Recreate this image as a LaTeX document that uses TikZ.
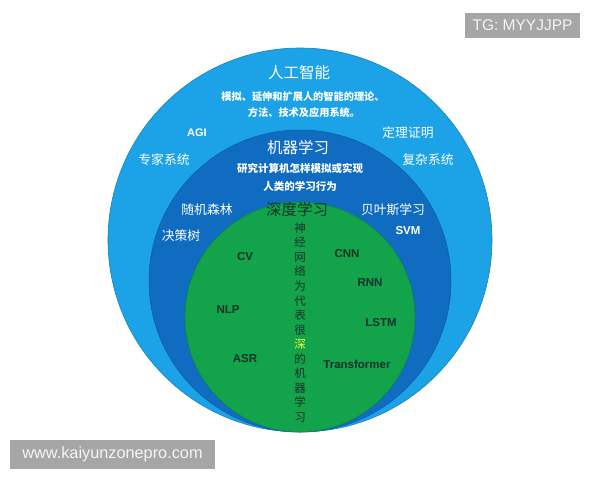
\documentclass[tikz,border=0pt]{standalone}
\usepackage{fontspec}
\setmainfont{Liberation Sans}
\newfontfamily\cjk{Noto Sans CJK SC}
\definecolor{outerblue}{HTML}{1CA2E6}
\definecolor{outeredge}{HTML}{1782BE}
\definecolor{midblue}{HTML}{0F6CC0}
\definecolor{midedge}{HTML}{0B5A9E}
\definecolor{innergreen}{HTML}{13A34B}
\definecolor{inneredge}{HTML}{0E8A3E}
\definecolor{gtext}{HTML}{16322A}
\definecolor{hlyellow}{HTML}{EEFF33}
\definecolor{wmgray}{HTML}{A6A6A6}
\definecolor{wmtext}{HTML}{F4F4F4}
\tikzset{
  wtitle/.style={text=white, font=\cjk\fontsize{15.5}{18}\selectfont, inner sep=0pt},
  wsub/.style={text=white, font=\cjk\bfseries\fontsize{10.2}{12}\selectfont, inner sep=0pt},
  wlab/.style={text=white, font=\cjk\fontsize{12.8}{15}\selectfont, inner sep=0pt},
  wlat/.style={text=white, font=\bfseries\fontsize{11}{13}\selectfont, inner sep=0pt},
  glat/.style={text=gtext, font=\bfseries\fontsize{11.5}{13}\selectfont, inner sep=0pt},
  wmbox/.style={fill=wmgray, text=wmtext, inner sep=0pt, font=\fontsize{15.5}{18}\selectfont}
}
\begin{document}
\begin{tikzpicture}[x=1pt,y=-1pt]
\useasboundingbox (0,0) rectangle (600,480);
\fill[white] (0,0) rectangle (600,480);
% circles
\filldraw[fill=outerblue, draw=outeredge, line width=0.6pt] (300,240) circle[radius=192];
\filldraw[fill=midblue, draw=midedge, line width=0.5pt] (300,281) circle[radius=151];
\filldraw[fill=innergreen, draw=inneredge, line width=0.5pt] (300,317) circle[radius=115];
% outer ring texts
\node[wtitle] (ai) at (299,73) {人工智能};
\node[wsub] (aisub1) at (303,97) {模拟、延伸和扩展人的智能的理论、};
\node[wsub] (aisub2) at (304,113) {方法、技术及应用系统。};
\node[wlat] (agi) at (197,133) {AGI};
\node[wlab] (thm) at (408,133) {定理证明};
\node[wlab] (expert) at (164,160) {专家系统};
\node[wlab] (complex) at (428,160) {复杂系统};
% middle ring texts
\node[wtitle] (ml) at (298,148) {机器学习};
\node[wsub, font=\cjk\bfseries\fontsize{10.5}{12}\selectfont] (mlsub1) at (300,168) {研究计算机怎样模拟或实现};
\node[wsub, font=\cjk\bfseries\fontsize{10.5}{12}\selectfont] (mlsub2) at (300,186) {人类的学习行为};
\node[wlab] (rf) at (207,210) {随机森林};
\node[wlab] (bayes) at (393,210) {贝叶斯学习};
\node[wlab] (dt) at (181,236) {决策树};
\node[wlat, font=\bfseries\fontsize{11.5}{13}\selectfont] (svm) at (408,231) {SVM};
% inner circle texts
\node[wtitle, text=gtext] (dl) at (297,210) {深度学习};
\node[text=gtext, font=\cjk\fontsize{11.5}{14.55}\selectfont, align=center, inner sep=0pt] (vert) at (300,322.5)
  {神\\经\\网\\络\\为\\代\\表\\很\\{\color{hlyellow}深}\\的\\机\\器\\学\\习};
\node[glat] (cv) at (245,257) {CV};
\node[glat] (cnn) at (347,254) {CNN};
\node[glat] (rnn) at (370,283) {RNN};
\node[glat] (nlp) at (228,310) {NLP};
\node[glat] (lstm) at (381,323) {LSTM};
\node[glat] (asr) at (245,359) {ASR};
\node[glat] (tf) at (357,364) {Transformer};
% watermarks
\node[wmbox, minimum width=115pt, minimum height=25pt] (tg) at (522.5,25.5) {TG: MYYJJPP};
\node[wmbox, minimum width=205pt, minimum height=29pt, font=\fontsize{16.3}{18}\selectfont] (www) at (112.5,454.5) {www.kaiyunzonepro.com};
\end{tikzpicture}
\end{document}
